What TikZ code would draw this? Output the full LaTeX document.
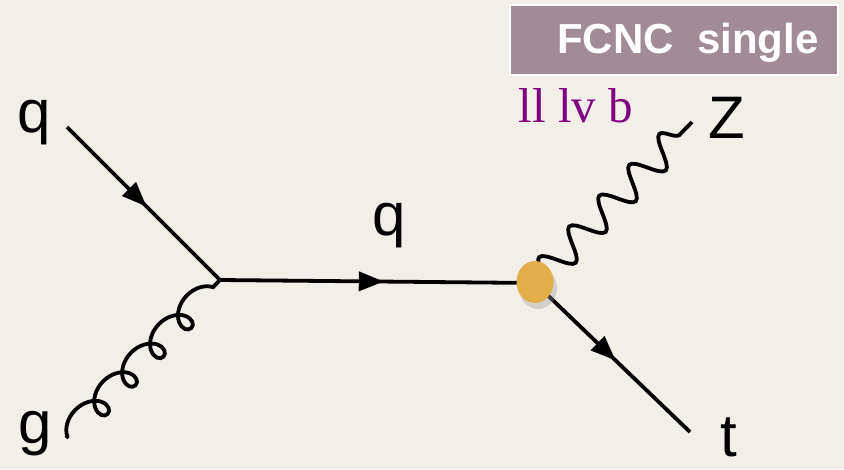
\documentclass[tikz,border=0pt]{standalone}
\usepackage{fontspec}
\setmainfont{Liberation Sans}
\newfontfamily\serifx{Liberation Serif}
\usetikzlibrary{decorations.pathmorphing,decorations.markings,arrows.meta,shapes.geometric}
\definecolor{bgc}{HTML}{F2EFE8}
\definecolor{boxc}{HTML}{A08B96}
\definecolor{blobc}{HTML}{E1AE4A}
\definecolor{purp}{HTML}{800080}
\tikzset{
  fermion/.style={line width=3.8pt, postaction={decorate},
    decoration={markings, mark=at position 0.52 with {\arrow{Triangle[length=25pt,width=19pt]}}}},
  gluon/.style={line width=3.8pt, decorate,
    decoration={coil, aspect=1.1, segment length=40pt, amplitude=13pt, pre length=2pt, post length=8pt}},
  photon/.style={line width=3.8pt, decorate,
    decoration={snake, segment length=43pt, amplitude=15pt, pre length=8pt, post length=2pt}},
  lbl/.style={font=\fontsize{60}{60}\selectfont, inner sep=0pt}
}
\begin{document}
\begin{tikzpicture}[x=1pt,y=-1pt]
\fill[bgc] (0,0) rectangle (844,469);
\useasboundingbox (0,0) rectangle (844,469);
\coordinate (qin) at (67,127);
\coordinate (gin) at (66,438);
\coordinate (v1) at (220,280);
\coordinate (v2) at (535,283);
\coordinate (zend) at (692,122);
\coordinate (tend) at (690,432);
\draw[fermion] (qin) -- (v1);
\draw[gluon] (gin) -- (v1);
\draw[fermion] (v1) -- (v2);
\draw[photon] (v2) -- (zend);
\draw[fermion] (v2) -- (tend);
\fill[black!40, opacity=0.35] (538,288) ellipse (19pt and 21pt);
\node[fill=blobc, ellipse, minimum width=37pt, minimum height=42pt, inner sep=0pt] (blob) at (535,282) {};
\node[lbl] (lq) at (34,123) {q};
\node[lbl] (lg) at (35,434) {g};
\node[lbl] (lq2) at (389,226) {q};
\node[lbl] (lz) at (727,118) {Z};
\node[lbl] (lt) at (729,437) {t};
\node[draw=white, line width=2pt, fill=boxc, minimum width=328pt, minimum height=70pt, inner sep=0pt] (box) at (674,40) {};
\node[text=white, font=\fontsize{42}{42}\selectfont\bfseries, inner sep=0pt] (ftitle) at (688,43) {FCNC\ \ single};
\node[text=purp, font=\serifx\fontsize{49}{49}\selectfont, inner sep=0pt] (ll) at (576,106) {ll lv b};
\end{tikzpicture}
\end{document}
